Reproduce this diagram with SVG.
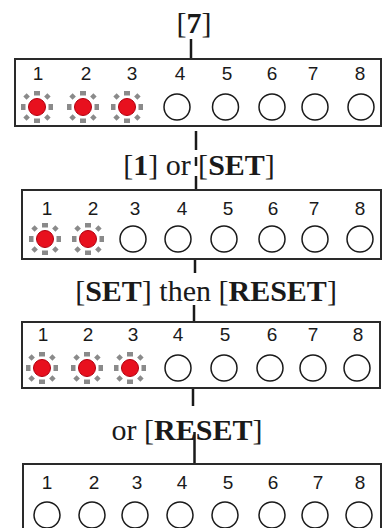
<svg xmlns="http://www.w3.org/2000/svg" xmlns:xlink="http://www.w3.org/1999/xlink" width="387" height="528" viewBox="0 0 387 528">
<style>
.box{fill:#fff;stroke:#2a2a2a;stroke-width:2}
.off{fill:#fff;stroke:#1a1a1a;stroke-width:1.5}
.num{font-family:"Liberation Sans",Arial,sans-serif;font-size:19px;fill:#1a1a1a;text-anchor:middle}
.lbl{font-family:"Liberation Serif","Times New Roman",serif;font-size:30px;fill:#1a1a1a;text-anchor:middle}
.b{font-weight:bold}
.conn line{stroke:#1a1a1a;stroke-width:2.5}
.ray{fill:#8a8a8a}
</style>
<defs>
<g id="lit">
<rect class="ray" x="-3" y="-16" width="6" height="4.5"/>
<rect class="ray" x="-3" y="11.5" width="6" height="4.5"/>
<rect class="ray" x="-16" y="-3" width="4.5" height="6"/>
<rect class="ray" x="11.5" y="-3" width="4.5" height="6"/>
<rect class="ray" x="-2.3" y="-2.3" width="4.6" height="4.6" transform="translate(10.4,-10.4) rotate(45)"/>
<rect class="ray" x="-2.3" y="-2.3" width="4.6" height="4.6" transform="translate(10.4,10.4) rotate(45)"/>
<rect class="ray" x="-2.3" y="-2.3" width="4.6" height="4.6" transform="translate(-10.4,10.4) rotate(45)"/>
<rect class="ray" x="-2.3" y="-2.3" width="4.6" height="4.6" transform="translate(-10.4,-10.4) rotate(45)"/>
<circle r="8.5" fill="#e8101e" stroke="#b0000f" stroke-width="1"/>
</g>
</defs>
<rect width="387" height="528" fill="#fff"/>

<g id="connectors" class="conn">
<line x1="191" y1="39" x2="191" y2="59"/>
<line x1="196" y1="131" x2="196" y2="150"/>
<line x1="196" y1="157" x2="196" y2="166"/>
<line x1="196" y1="176" x2="196" y2="190"/>
<line x1="195" y1="259" x2="195" y2="273"/>
<line x1="194" y1="305" x2="194" y2="322"/>
<line x1="193" y1="388" x2="193" y2="406"/>
<line x1="194.5" y1="432" x2="194.5" y2="464"/>
</g>

<g id="label-7"><text class="lbl" x="194" y="33">[<tspan class="b">7</tspan>]</text></g>
<g id="label-1-or-set"><text class="lbl" x="199" y="175">[<tspan class="b">1</tspan>] or [<tspan class="b">SET</tspan>]</text></g>
<g id="label-set-then-reset"><text class="lbl" x="206" y="301">[<tspan class="b">SET</tspan>] then [<tspan class="b">RESET</tspan>]</text></g>
<g id="label-or-reset"><text class="lbl" x="187" y="440">or [<tspan class="b">RESET</tspan>]</text></g>

<g id="panel1">
<rect class="box" x="15" y="59" width="366" height="67"/>
<text class="num" x="38" y="80">1</text>
<text class="num" x="86" y="80">2</text>
<text class="num" x="132" y="80">3</text>
<text class="num" x="180" y="80">4</text>
<text class="num" x="227" y="80">5</text>
<text class="num" x="272" y="80">6</text>
<text class="num" x="313" y="80">7</text>
<text class="num" x="360" y="80">8</text>
<use xlink:href="#lit" x="37" y="107"/>
<use xlink:href="#lit" x="83" y="107"/>
<use xlink:href="#lit" x="127" y="107"/>
<circle class="off" cx="177" cy="107" r="13"/>
<circle class="off" cx="225.5" cy="107" r="13"/>
<circle class="off" cx="272" cy="107" r="13"/>
<circle class="off" cx="315" cy="107" r="13"/>
<circle class="off" cx="361" cy="107" r="13"/>
</g>

<g id="panel2">
<rect class="box" x="22" y="190" width="359" height="69"/>
<text class="num" x="47" y="215">1</text>
<text class="num" x="93" y="215">2</text>
<text class="num" x="135" y="215">3</text>
<text class="num" x="182" y="215">4</text>
<text class="num" x="228" y="215">5</text>
<text class="num" x="273" y="215">6</text>
<text class="num" x="314" y="215">7</text>
<text class="num" x="360" y="215">8</text>
<use xlink:href="#lit" x="45" y="239"/>
<use xlink:href="#lit" x="88" y="239"/>
<circle class="off" cx="133" cy="239" r="13"/>
<circle class="off" cx="178" cy="239" r="13"/>
<circle class="off" cx="224" cy="239" r="13"/>
<circle class="off" cx="272" cy="239" r="13"/>
<circle class="off" cx="315" cy="239" r="13"/>
<circle class="off" cx="360" cy="239" r="13"/>
</g>

<g id="panel3">
<rect class="box" x="22" y="322" width="358" height="66"/>
<text class="num" x="43" y="341">1</text>
<text class="num" x="88" y="341">2</text>
<text class="num" x="133" y="341">3</text>
<text class="num" x="178" y="341">4</text>
<text class="num" x="225" y="341">5</text>
<text class="num" x="272" y="341">6</text>
<text class="num" x="313" y="341">7</text>
<text class="num" x="358" y="341">8</text>
<use xlink:href="#lit" x="42" y="368"/>
<use xlink:href="#lit" x="87" y="368"/>
<use xlink:href="#lit" x="130" y="368"/>
<circle class="off" cx="178" cy="368" r="13"/>
<circle class="off" cx="224" cy="368" r="13"/>
<circle class="off" cx="270" cy="368" r="13"/>
<circle class="off" cx="313" cy="368" r="13"/>
<circle class="off" cx="357" cy="368" r="13"/>
</g>

<g id="panel4">
<rect class="box" x="23" y="464" width="358" height="70"/>
<text class="num" x="47" y="489">1</text>
<text class="num" x="94" y="489">2</text>
<text class="num" x="137" y="489">3</text>
<text class="num" x="182" y="489">4</text>
<text class="num" x="228" y="489">5</text>
<text class="num" x="273" y="489">6</text>
<text class="num" x="318" y="489">7</text>
<text class="num" x="360" y="489">8</text>
<circle class="off" cx="47" cy="515" r="13"/>
<circle class="off" cx="92" cy="515" r="13"/>
<circle class="off" cx="135" cy="515" r="13"/>
<circle class="off" cx="180" cy="515" r="13"/>
<circle class="off" cx="225" cy="515" r="13"/>
<circle class="off" cx="272" cy="515" r="13"/>
<circle class="off" cx="315" cy="515" r="13"/>
<circle class="off" cx="359" cy="515" r="13"/>
</g>
</svg>
